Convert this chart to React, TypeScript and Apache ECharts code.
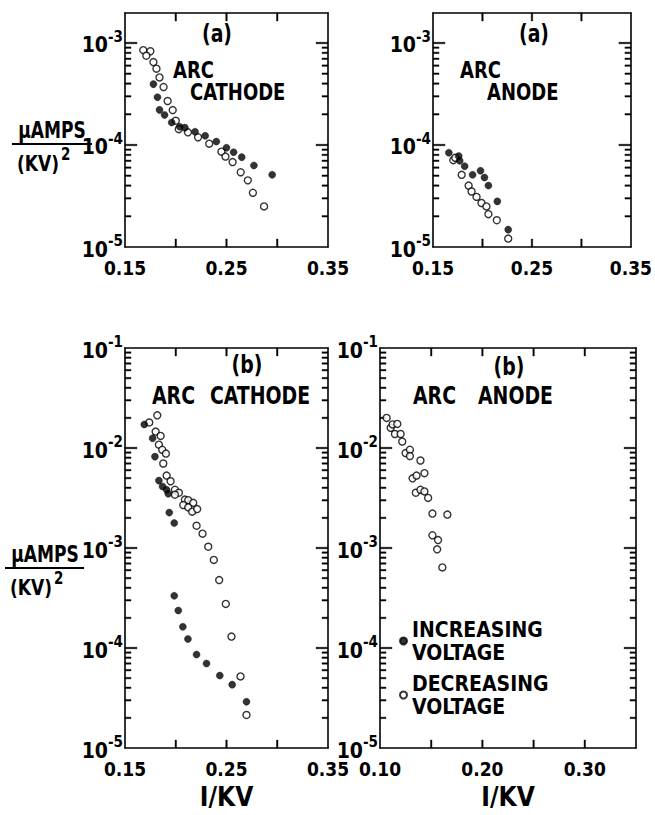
import React, { useEffect, useRef } from 'react';
import * as echarts from 'echarts';

// ---- Panel (a): ARC CATHODE ----
const aCathodeIncX = [0.178, 0.182, 0.184, 0.189, 0.196, 0.204, 0.209, 0.219, 0.229, 0.240, 0.250, 0.257, 0.265, 0.277, 0.295];
const aCathodeIncY = [3.95e-4, 2.94e-4, 2.21e-4, 1.97e-4, 1.66e-4, 1.51e-4, 1.48e-4, 1.35e-4, 1.23e-4, 1.08e-4, 9.4e-5, 8.5e-5, 7.6e-5, 6.3e-5, 5.1e-5];
const aCathodeDecX = [0.168, 0.175, 0.171, 0.178, 0.181, 0.184, 0.188, 0.192, 0.197, 0.200, 0.203, 0.212, 0.222, 0.233, 0.245, 0.249, 0.256, 0.264, 0.271, 0.276, 0.287];
const aCathodeDecY = [8.5e-4, 8.3e-4, 7.5e-4, 6.5e-4, 5.6e-4, 4.6e-4, 3.7e-4, 2.7e-4, 2.2e-4, 1.73e-4, 1.43e-4, 1.33e-4, 1.19e-4, 1.03e-4, 8.6e-5, 7.7e-5, 6.8e-5, 5.4e-5, 4.5e-5, 3.4e-5, 2.5e-5];

// ---- Panel (a): ARC ANODE ----
const aAnodeIncX = [0.166, 0.176, 0.177, 0.182, 0.190, 0.198, 0.202, 0.206, 0.215, 0.226];
const aAnodeIncY = [8.4e-5, 7.8e-5, 7.0e-5, 6.2e-5, 5.1e-5, 5.6e-5, 4.8e-5, 4.0e-5, 2.8e-5, 1.48e-5];
const aAnodeDecX = [0.1705, 0.1725, 0.179, 0.186, 0.189, 0.194, 0.199, 0.204, 0.206, 0.2145, 0.226];
const aAnodeDecY = [7.1e-5, 7.5e-5, 5.1e-5, 4.0e-5, 3.5e-5, 3.1e-5, 2.7e-5, 2.5e-5, 2.1e-5, 1.83e-5, 1.21e-5];

// ---- Panel (b): ARC CATHODE ----
const bCathodeIncX = [0.169, 0.1772, 0.1795, 0.1834, 0.187, 0.191, 0.1926, 0.1936, 0.1985, 0.1985, 0.2025, 0.207, 0.212, 0.2205, 0.2303, 0.2434, 0.2556, 0.2697];
const bCathodeIncY = [1.72e-2, 1.25e-2, 8.2e-3, 4.72e-3, 4.12e-3, 3.82e-3, 3.49e-3, 2.26e-3, 1.78e-3, 3.33e-4, 2.37e-4, 1.63e-4, 1.23e-4, 8.6e-5, 7.0e-5, 5.3e-5, 4.3e-5, 2.9e-5];
const bCathodeDecX = [0.1739, 0.1818, 0.1802, 0.1851, 0.1834, 0.1867, 0.1903, 0.1877, 0.191, 0.1949, 0.1992, 0.2031, 0.1992, 0.209, 0.2123, 0.2172, 0.2074, 0.2123, 0.2162, 0.2211, 0.2205, 0.2264, 0.232, 0.2375, 0.2428, 0.2493, 0.2549, 0.2638, 0.2697];
const bCathodeDecY = [1.80e-2, 2.12e-2, 1.46e-2, 1.32e-2, 1.08e-2, 9.6e-3, 8.8e-3, 7.0e-3, 5.3e-3, 4.65e-3, 3.82e-3, 3.57e-3, 3.41e-3, 3.05e-3, 3.01e-3, 2.83e-3, 2.69e-3, 2.55e-3, 2.31e-3, 2.45e-3, 1.67e-3, 1.39e-3, 1.03e-3, 7.6e-4, 4.78e-4, 2.76e-4, 1.30e-4, 5.2e-5, 2.14e-5];

// ---- Panel (b): ARC ANODE ----
const bAnodeDecX = [0.1065, 0.1104, 0.1123, 0.1169, 0.1146, 0.1201, 0.1217, 0.125, 0.1292, 0.1292, 0.1395, 0.1318, 0.1357, 0.1434, 0.135, 0.1395, 0.1434, 0.147, 0.1512, 0.1658, 0.1512, 0.1567, 0.1558, 0.1609];
const bAnodeDecY = [2.0e-2, 1.59e-2, 1.72e-2, 1.74e-2, 1.38e-2, 1.38e-2, 1.16e-2, 8.9e-3, 9.6e-3, 8.3e-3, 7.5e-3, 4.97e-3, 5.3e-3, 5.6e-3, 3.57e-3, 3.82e-3, 3.68e-3, 3.17e-3, 2.21e-3, 2.16e-3, 1.34e-3, 1.20e-3, 9.7e-4, 6.4e-4];

// ---- Axis ticks and tick labels ----
const xLabelsA = [0.15, 0.25, 0.35];
const xTicksA = [0.2, 0.25, 0.3];
const xLabelsB = [0.1, 0.2, 0.3];
const xTicksB = [0.15, 0.2, 0.25, 0.3];
const minorMultipliers = [2, 3, 4, 5, 6, 7, 8, 9];

const INC = 'INCREASING VOLTAGE';
const DEC = 'DECREASING VOLTAGE';

const FONT = "'DejaVu Sans Condensed', 'Liberation Sans Narrow', sans-serif";
const BLACK = '#000';

type S = { name: string; x: number[]; y: number[]; filled: boolean };
type Panel = {
  left: number; top: number; width: number; height: number;
  xMin: number; xMax: number; xLabels: number[]; xTicks: number[];
  yMin: number; yMax: number; xName: string; series: S[];
};

const panels: Panel[] = [
  {
    left: 125, top: 13, width: 203, height: 234, xMin: 0.15, xMax: 0.35, xLabels: xLabelsA, xTicks: xTicksA,
    yMin: -5, yMax: -2.706, xName: '',
    series: [
      { name: DEC, x: aCathodeDecX, y: aCathodeDecY, filled: false },
      { name: INC, x: aCathodeIncX, y: aCathodeIncY, filled: true },
    ],
  },
  {
    left: 433, top: 13, width: 202, height: 234, xMin: 0.15, xMax: 0.35, xLabels: xLabelsA, xTicks: xTicksA,
    yMin: -5, yMax: -2.706, xName: '',
    series: [
      { name: DEC, x: aAnodeDecX, y: aAnodeDecY, filled: false },
      { name: INC, x: aAnodeIncX, y: aAnodeIncY, filled: true },
    ],
  },
  {
    left: 125, top: 348, width: 203, height: 408, xMin: 0.15, xMax: 0.35, xLabels: xLabelsA, xTicks: xTicksA,
    yMin: -5, yMax: -1, xName: 'I/KV',
    series: [
      { name: DEC, x: bCathodeDecX, y: bCathodeDecY, filled: false },
      { name: INC, x: bCathodeIncX, y: bCathodeIncY, filled: true },
    ],
  },
  {
    left: 380, top: 348, width: 256, height: 408, xMin: 0.1, xMax: 0.35, xLabels: xLabelsB, xTicks: xTicksB,
    yMin: -5, yMax: -1, xName: 'I/KV',
    series: [
      { name: DEC, x: bAnodeDecX, y: bAnodeDecY, filled: false },
    ],
  },
];

const inside = (v: number, min: number, max: number) => v > min + 1e-6 && v < max - 1e-6;
function decadeTicks(min: number, max: number) {
  const r: number[] = [];
  for (let d = Math.floor(min); d <= Math.floor(max); d++) if (inside(d, min, max)) r.push(d);
  return r;
}
function logMinorTicks(min: number, max: number) {
  const r: number[] = [];
  for (let d = Math.floor(min); d <= Math.floor(max); d++) {
    minorMultipliers.forEach((k) => {
      const v = d + Math.log10(k);
      if (inside(v, min, max)) r.push(v);
    });
  }
  return r;
}

const axisIndex = (g: number) => ({ xAxisIndex: 2 * g, yAxisIndex: 2 * g });

function buildOption() {
  const lineStyle = { color: BLACK, width: 1.6 };
  const grid: any[] = [];
  const xAxis: any[] = [];
  const yAxis: any[] = [];
  const series: any[] = [];

  panels.forEach((p, g) => {
    grid.push({ left: p.left, top: p.top, width: p.width, height: p.height, containLabel: false });
    const xBase = {
      type: 'value', gridIndex: g, min: p.xMin, max: p.xMax, interval: 0.05,
      splitLine: { show: false },
      axisLine: { show: true, onZero: false, lineStyle },
      axisTick: { show: false },
    };
    xAxis.push({
      ...xBase, position: 'bottom',
      axisLabel: {
        show: true, showMinLabel: true, showMaxLabel: true, margin: 11,
        formatter: (v: number) => (p.xLabels.some((l) => Math.abs(l - v) < 1e-6) ? v.toFixed(2) : ''),
        fontFamily: FONT, fontWeight: 'bold', fontSize: 19, color: BLACK,
      },
      name: p.xName, nameLocation: 'middle', nameGap: 36,
      nameTextStyle: { fontFamily: FONT, fontWeight: 'bold', fontSize: 26, color: BLACK },
    });
    xAxis.push({ ...xBase, position: 'top', axisLabel: { show: false } });

    const yBase = {
      type: 'value', gridIndex: g, min: p.yMin, max: p.yMax, offset: 0,
      minInterval: 1, maxInterval: 1,
      splitLine: { show: false },
      axisLine: { show: true, onZero: false, lineStyle },
      axisTick: { show: false },
    };
    yAxis.push({
      ...yBase, position: 'left',
      axisLabel: {
        show: true, showMinLabel: true, showMaxLabel: true, margin: 2,
        formatter: (v: number) => (Math.abs(v - Math.round(v)) < 1e-6 ? `{b|10}{e|${Math.round(v)}}` : ''),
        rich: {
          b: { fontFamily: FONT, fontWeight: 'bold', fontSize: 21, lineHeight: 21, color: BLACK, padding: [5, 0, 0, 0] },
          e: { fontFamily: FONT, fontWeight: 'bold', fontSize: 15, lineHeight: 14, color: BLACK, padding: [0, 0, 12, 0] },
        },
      },
    });
    yAxis.push({ ...yBase, position: 'right', axisLabel: { show: false } });

    p.series.forEach((s) => {
      series.push({
        type: 'scatter', name: s.name, ...axisIndex(g), z: 4,
        symbol: 'circle', symbolSize: 7,
        itemStyle: s.filled
          ? { color: BLACK, borderColor: BLACK, borderWidth: 0.5 }
          : { color: '#fff', borderColor: BLACK, borderWidth: 1.4 },
        data: s.x.map((x, i) => [x, Math.log10(s.y[i])]),
      });
    });
  });

  const txt = (text: string, x: number, y: number, size: number, align = 'left', sy = 1.15) => ({
    type: 'text', x, y, silent: true, scaleY: sy,
    style: { text, fontFamily: FONT, fontWeight: 'bold', fontSize: size, fill: BLACK, align, verticalAlign: 'middle' },
  });
  const yTitle = (cx: number, cy: number, x1: number, x2: number) => ({
    type: 'group', silent: true,
    children: [
      txt('\u03BCAMPS', cx, cy - 14, 19, 'center', 1.2),
      { type: 'line', shape: { x1, y1: cy, x2, y2: cy }, style: { stroke: BLACK, lineWidth: 2 } },
      {
        type: 'text', x: x1 + 5, y: cy + 16, scaleY: 1.15,
        style: {
          text: '{a|(KV)}{s|2}', align: 'left', verticalAlign: 'middle',
          rich: {
            a: { fontFamily: FONT, fontWeight: 'bold', fontSize: 19, lineHeight: 20, color: BLACK, padding: [6, 0, 0, 0] },
            s: { fontFamily: FONT, fontWeight: 'bold', fontSize: 15, lineHeight: 15, color: BLACK, padding: [0, 0, 11, 2] },
          },
        },
      },
    ],
  });

  const graphic = [
    txt('(a)', 217, 33, 21, 'center'),
    txt('ARC', 173, 70, 20),
    txt('CATHODE', 190, 92, 20),
    txt('(a)', 534, 33, 21, 'center'),
    txt('ARC', 460, 70, 20),
    txt('ANODE', 487, 92, 20),
    txt('(b)', 247, 364, 21, 'center'),
    txt('ARC', 152, 395, 21),
    txt('CATHODE', 210, 395, 21),
    txt('(b)', 509, 366, 21, 'center'),
    txt('ARC', 413, 395, 21),
    txt('ANODE', 478, 395, 21),
    yTitle(52, 144, 12, 92),
    yTitle(45, 568, 5, 84),
  ];

  return {
    animation: false,
    backgroundColor: '#fff',
    grid, xAxis, yAxis, series, graphic,
    legend: {
      data: [INC, DEC], orient: 'vertical', left: 394, top: 606,
      itemWidth: 7, itemHeight: 7, itemGap: -6, itemTextGap: 7, selectedMode: false,
      formatter: (n: string) => n.replace(' ', '\n'),
      textStyle: { fontFamily: FONT, fontWeight: 'bold', fontSize: 21, lineHeight: 23, color: BLACK, padding: [14, 0, 0, 0] },
    },
  };
}

// inward frame ticks as thin filled rectangles, positioned through each grid's axes
function buildTicks(chart: any) {
  const groups: any[] = [];
  panels.forEach((p, g) => {
    const children: any[] = [];
    const bar = (x: number, y: number, w: number, h: number) =>
      children.push({ type: 'rect', shape: { x, y, width: w, height: h }, style: { fill: BLACK, stroke: BLACK, lineWidth: 0.4 } });
    const px = (x: number, y: number): number[] | null => {
      const r = chart.convertToPixel(axisIndex(g), [x, y]);
      return r && isFinite(r[0]) && isFinite(r[1]) ? r : null;
    };
    const yTicks: [number, number][] = [
      ...decadeTicks(p.yMin, p.yMax).map((v) => [v, 12] as [number, number]),
      ...logMinorTicks(p.yMin, p.yMax).map((v) => [v, 6] as [number, number]),
    ];
    yTicks.forEach(([v, len]) => {
      const a = px(p.xMin, v);
      const b = px(p.xMax, v);
      if (a) bar(a[0], a[1] - 0.75, len, 1.5);
      if (b) bar(b[0] - len, b[1] - 0.75, len, 1.5);
    });
    p.xTicks.forEach((t) => {
      const a = px(t, p.yMin);
      const b = px(t, p.yMax);
      if (a) bar(a[0] - 0.75, a[1] - 8, 1.5, 8);
      if (b) bar(b[0] - 0.75, b[1], 1.5, 8);
    });
    groups.push({ type: 'group', silent: true, children });
  });
  return groups;
}

export default function App() {
  const ref = useRef<HTMLDivElement>(null);
  useEffect(() => {
    if (!ref.current) return;
    const chart = echarts.init(ref.current, undefined, { renderer: 'svg' });
    const option: any = buildOption();
    chart.setOption(option);
    let ticks: any[] = [];
    try {
      ticks = buildTicks(chart);
    } catch (e) {
      ticks = [];
    }
    chart.setOption({ graphic: [...option.graphic, ...ticks] });
    return () => chart.dispose();
  }, []);
  return <div ref={ref} style={{ position: 'absolute', left: 0, top: 0, width: 655, height: 815 }} />;
}
